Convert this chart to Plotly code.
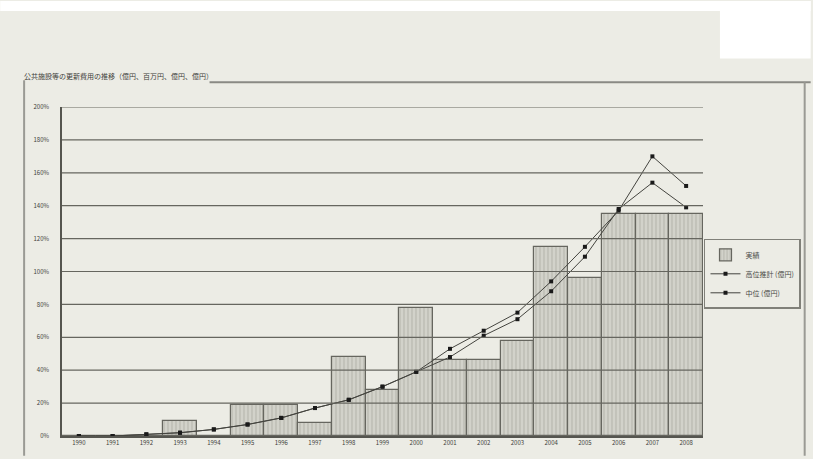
import plotly.graph_objects as go

categories = ["1990", "1991", "1992", "1993", "1994", "1995", "1996", "1997", "1998", "1999",
              "2000", "2001", "2002", "2003", "2004", "2005", "2006", "2007", "2008"]
actual = [0, 0, 0, 9, 0, 19, 19, 8, 48, 28, 78, 46, 46, 58, 115, 96, 135, 135, 135]
high_est = [0, 0, 1, 2, 4, 7, 11, 17, 22, 30, 39, 53, 64, 75, 94, 115, 137, 170, 152]
mid_est = [0, 0, 1, 2, 4, 7, 11, 17, 22, 30, 39, 48, 61, 71, 88, 109, 138, 154, 139]
y_ticks = list(range(0, 201, 20))
y_labels = [f"{v}%" for v in y_ticks]

title = "公共施設等の更新費用の推移（億円、百万円、億円、億円）"
names = ["実績", "高位推計 (億円)", "中位 (億円)"]

font = "Noto Sans CJK JP"
W, H = 813, 459
L, R, T, B = 62, 705, 107, 439


def px(x):
    return (x - L) / (R - L)


def py(y):
    return (B - y) / (B - T)


fig = go.Figure()
fig.add_trace(go.Bar(
    x=categories, y=actual, name=names[0],
    marker=dict(color="#d2d2ca", line=dict(color="#66665f", width=1.2),
                pattern=dict(shape="|", fgcolor="#a4a49c", size=4, solidity=0.35)),
))
fig.add_trace(go.Scatter(
    x=categories, y=high_est, name=names[1], mode="lines+markers",
    line=dict(color="#44443f", width=1),
    marker=dict(symbol="square", size=4, color="#1a1a1a"),
))
fig.add_trace(go.Scatter(
    x=categories, y=mid_est, name=names[2], mode="lines+markers",
    line=dict(color="#44443f", width=1),
    marker=dict(symbol="square", size=4, color="#1a1a1a"),
))

# gridlines drawn over the bars, as in the scanned original
grid_shapes = [
    dict(type="line", xref="paper", yref="y", x0=0, x1=1, y0=v, y1=v,
         line=dict(color="#66665f", width=1.2), layer="above")
    for v in y_ticks[1:]
]

fig.update_layout(
    width=W, height=H,
    margin=dict(l=L, r=W - R, t=T, b=H - B),
    paper_bgcolor="#ecece5", plot_bgcolor="#ecece5",
    bargap=0,
    font=dict(family=font, size=7, color="#4a4a46"),
    showlegend=True,
    legend=dict(x=px(706), y=py(240), xanchor="left", yanchor="top",
                bgcolor="#ecece5", bordercolor="#808079", borderwidth=1.5,
                font=dict(size=7, color="#4a4a46"), tracegroupgap=4),
    xaxis=dict(range=[-0.5, len(categories) - 0.5], showgrid=False,
               showline=True, linecolor="#55554f", linewidth=1.5,
               ticks="", tickfont=dict(size=6, color="#3e3e3a")),
    yaxis=dict(range=[0, 200], tickvals=y_ticks, ticktext=y_labels,
               showgrid=False,
               showline=True, linecolor="#55554f", linewidth=1.5,
               zeroline=False, ticks="", ticklabelstandoff=10,
               tickfont=dict(size=6, color="#3e3e3a")),
    shapes=[
        dict(type="rect", xref="paper", yref="paper",
             x0=px(0), x1=px(W), y0=py(10), y1=py(0),
             fillcolor="#ffffff", line=dict(width=0), layer="below"),
        dict(type="rect", xref="paper", yref="paper",
             x0=px(722), x1=px(W), y0=py(58), y1=py(0),
             fillcolor="#ffffff", line=dict(width=0), layer="below"),
        dict(type="line", xref="paper", yref="paper",
             x0=px(24), x1=px(24), y0=py(H), y1=py(80),
             line=dict(color="#9a9a94", width=2)),
        dict(type="line", xref="paper", yref="paper",
             x0=px(210), x1=px(W), y0=py(82), y1=py(82),
             line=dict(color="#8a8a84", width=2)),
        dict(type="line", xref="paper", yref="paper",
             x0=px(807), x1=px(807), y0=py(H), y1=py(82),
             line=dict(color="#9a9a94", width=2)),
    ] + grid_shapes,
    annotations=[
        dict(text=title, xref="paper", yref="paper",
             x=px(22), y=py(76), xanchor="left", yanchor="middle",
             showarrow=False, font=dict(size=7, color="#3e3e3a")),
    ],
)

fig.write_html("out.html")
